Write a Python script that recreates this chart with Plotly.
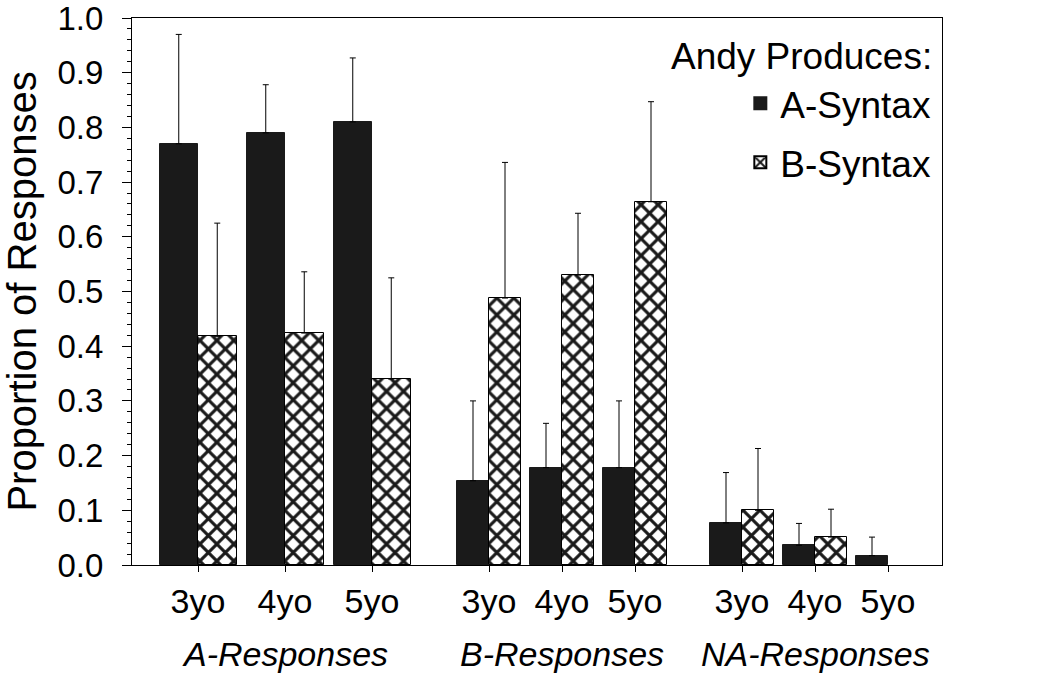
import plotly.graph_objects as go

# ---- data ----
groups = ["A-Responses", "B-Responses", "NA-Responses"]
ages = ["3yo", "4yo", "5yo"]
series = ["A-Syntax", "B-Syntax"]
y_ticks = [0.0, 0.1, 0.2, 0.3, 0.4, 0.5, 0.6, 0.7, 0.8, 0.9, 1.0]

# values per group (3yo, 4yo, 5yo)
a_syntax = [0.77, 0.79, 0.81,   0.154, 0.178, 0.178,   0.077, 0.036, 0.017]
b_syntax = [0.418, 0.424, 0.340, 0.488, 0.530, 0.664,  0.100, 0.051, 0.0]
# upper error bar (SD) lengths
a_err = [0.200, 0.088, 0.117,  0.146, 0.081, 0.122,  0.092, 0.040, 0.034]
b_err = [0.207, 0.112, 0.185,  0.248, 0.113, 0.183,  0.113, 0.051, 0.0]

# ---- layout of categories (pixel-like units on a 0..810 axis) ----
group_layout = [  # (center of first pair, step between pairs, bar width)
    (66, 87, 38.5),
    (357, 73, 32),
    (610, 73, 32),
]

centers, widths = [], []
for (c0, step, bw) in group_layout:
    for i in range(len(ages)):
        centers.append(c0 + i * step)
        widths.append(bw)

x_black = [c - w / 2 for c, w in zip(centers, widths)]
x_hatch = [c + w / 2 for c, w in zip(centers, widths)]

BLACK = "#1a1a1a"
FONT = "Liberation Sans, Arial, sans-serif"

fig = go.Figure()
fig.add_trace(go.Bar(
    name=series[0], x=x_black, y=a_syntax, width=widths, legendgroup="a",
    marker=dict(color=BLACK, line=dict(color=BLACK, width=1)),
    error_y=dict(type="data", symmetric=False, array=a_err,
                 arrayminus=[0] * len(a_err), color="black", thickness=1, width=3),
))
fig.add_trace(go.Bar(
    name=series[1], x=x_hatch, y=[v if v > 0 else None for v in b_syntax],
    width=widths, legendgroup="b",
    marker=dict(color="white", line=dict(color="black", width=1),
                pattern=dict(shape="x", size=12, solidity=0.45,
                             fgcolor=BLACK, bgcolor="white", fillmode="replace")),
    error_y=dict(type="data", symmetric=False,
                 array=[e if e > 0 else None for e in b_err],
                 arrayminus=[0] * len(b_err), color="black", thickness=1, width=3),
))

fig.update_layout(
    width=1050, height=675,
    margin=dict(l=132, r=108, t=18, b=110, autoexpand=False),
    paper_bgcolor="white", plot_bgcolor="white",
    barmode="overlay", bargap=0,
    font=dict(family=FONT, color="black"),
    showlegend=True,
    legend=dict(x=0.993, xanchor="right", y=0.90, yanchor="top",
                font=dict(size=37, family=FONT), bgcolor="rgba(0,0,0,0)",
                itemsizing="constant", tracegroupgap=8),
)

fig.update_yaxes(
    range=[0, 1.0], tickmode="array", tickvals=y_ticks,
    ticktext=[f"{v:.1f}" for v in y_ticks], automargin=False,
    ticklabeloverflow="allow",
    showline=True, linecolor="black", linewidth=1, mirror=True,
    ticks="outside", ticklen=9, tickcolor="black", tickwidth=1,
    ticklabelstandoff=12,
    minor=dict(dtick=0.02, tick0=0, ticks="outside", ticklen=4, tickcolor="black", tickwidth=1),
    showgrid=False, zeroline=False,
    tickfont=dict(size=33, family=FONT),
    title=dict(text="Proportion of Responses", font=dict(size=40, family=FONT), standoff=28),
)
fig.update_xaxes(
    range=[0, 810], automargin=False,
    tickvals=centers, ticktext=ages * len(groups),
    showline=True, linecolor="black", linewidth=1, mirror=True,
    ticks="outside", ticklen=6, tickcolor="black",
    showgrid=False, zeroline=False,
    tickfont=dict(size=34, family=FONT),
)

for gi, g in enumerate(groups):
    fig.add_annotation(
        x=centers[gi * 3 + 1], xref="x", y=0, yref="paper",
        yshift=-89, yanchor="middle", showarrow=False,
        text=f"<i>{g}</i>", font=dict(size=34, family=FONT),
    )

fig.add_annotation(
    x=0.99, xref="paper", y=0.93, yref="paper", xanchor="right", yanchor="middle",
    showarrow=False, text="Andy Produces:", font=dict(size=37, family=FONT),
)

fig.write_html("out.html", config={"displayModeBar": False},
               post_script="document.body.style.margin='0px';")
